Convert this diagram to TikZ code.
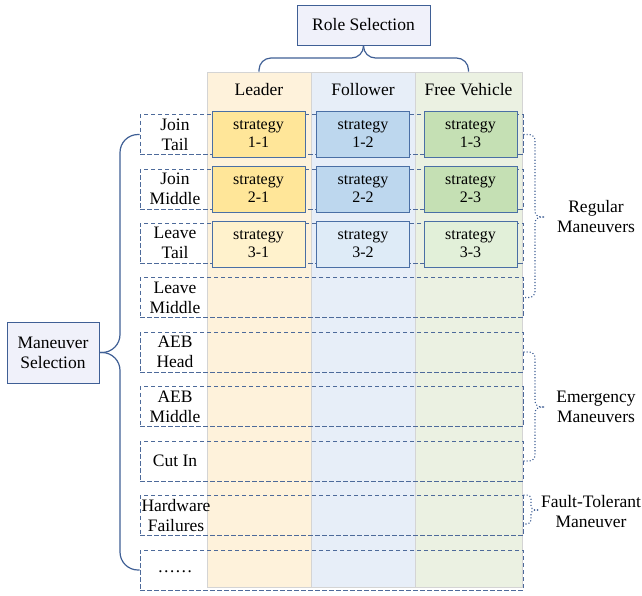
\documentclass[tikz,border=0pt]{standalone}
\usepackage{fontspec}
\setmainfont{Liberation Serif}
\usetikzlibrary{calc}
\definecolor{leaderbg}{HTML}{FEF2DB}
\definecolor{followerbg}{HTML}{E7EEF8}
\definecolor{freebg}{HTML}{EBF1E2}
\definecolor{yA}{HTML}{FFE699}
\definecolor{yB}{HTML}{FFF2CC}
\definecolor{bA}{HTML}{BDD7EE}
\definecolor{bB}{HTML}{DEEBF7}
\definecolor{gA}{HTML}{C5E0B4}
\definecolor{gB}{HTML}{E2F0D9}
\definecolor{sborder}{HTML}{4A6FA5}
\definecolor{dashc}{HTML}{4D6A9A}
\definecolor{bracec}{HTML}{3F5F95}
\definecolor{selfill}{HTML}{F0F1FA}
\definecolor{colline}{HTML}{D4D4D4}
\begin{document}
\begin{tikzpicture}[x=1pt,y=-1pt,
  txt/.style={font=\fontsize{17.5}{20}\selectfont, align=center, inner sep=0pt},
  selbox/.style={draw=bracec, fill=selfill, line width=1pt, font=\fontsize{17.5}{20}\selectfont, align=center, inner sep=0pt},
  colbox/.style={draw=colline, line width=0.8pt, minimum height=515pt, inner sep=0pt},
  rowbox/.style={draw=dashc, line width=0.9pt, dash pattern=on 4.5pt off 2.5pt, minimum width=383pt, minimum height=40pt, inner sep=0pt},
  stratbox/.style={draw=sborder, line width=1pt, minimum width=93pt, minimum height=46pt, inner sep=0pt, font=\fontsize{16}{18}\selectfont, align=center},
  brace/.style={draw=bracec, line width=1.2pt},
  dbrace/.style={draw=bracec, line width=1.1pt, dotted, rounded corners=6pt}]
\useasboundingbox (0,0) rectangle (642,595);
% columns
\node[colbox, fill=leaderbg, minimum width=104pt] (col1) at (259,329.5) {};
\node[colbox, fill=followerbg, minimum width=104pt] (col2) at (363,329.5) {};
\node[colbox, fill=freebg, minimum width=107pt] (col3) at (468.5,329.5) {};
\node[txt] (h1) at (259,90) {Leader};
\node[txt] (h2) at (363,90) {Follower};
\node[txt] (h3) at (468.5,90) {Free Vehicle};
% rows
\foreach \i/\y in {1/134.5,2/189,3/243,4/297.5,5/352,6/406.5,7/461,8/515.5,9/570}{
  \node[rowbox] (r\i) at (331.5,\y) {};
}
\node[txt] (l1) at (175,134.5) {Join\\Tail};
\node[txt] (l2) at (175,189) {Join\\Middle};
\node[txt] (l3) at (175,243) {Leave\\Tail};
\node[txt] (l4) at (175,297.5) {Leave\\Middle};
\node[txt] (l5) at (175,352) {AEB\\Head};
\node[txt] (l6) at (175,406.5) {AEB\\Middle};
\node[txt] (l7) at (175,461) {Cut In};
\node[txt] (l8) at (176,515.5) {Hardware\\Failures};
\node[txt] (l9) at (175,572) {\ldots\ldots};
% strategies
\node[stratbox, fill=yA] (s11) at (258.5,134) {strategy\\1-1};
\node[stratbox, fill=bA] (s12) at (363,134) {strategy\\1-2};
\node[stratbox, fill=gA] (s13) at (470.5,134) {strategy\\1-3};
\node[stratbox, fill=yA] (s21) at (258.5,189) {strategy\\2-1};
\node[stratbox, fill=bA] (s22) at (363,189) {strategy\\2-2};
\node[stratbox, fill=gA] (s23) at (470.5,189) {strategy\\2-3};
\node[stratbox, fill=yB] (s31) at (258.5,244) {strategy\\3-1};
\node[stratbox, fill=bB] (s32) at (363,244) {strategy\\3-2};
\node[stratbox, fill=gB] (s33) at (470.5,244) {strategy\\3-3};
% selection boxes
\node[selbox, minimum width=133pt, minimum height=40pt] (rs) at (363.5,25) {Role Selection};
\node[selbox, minimum width=92pt, minimum height=61pt] (ms) at (53,352.5) {Maneuver\\Selection};
% top brace
\coordinate (tb) at (363.5,58);
\draw[brace, rounded corners=12pt] (col1.north) |- (tb) -- (rs.south);
\draw[brace, rounded corners=12pt] (col3.north) |- (tb) -- (rs.south);
% left brace
\coordinate (lb) at (120,352.5);
\draw[brace, rounded corners=18pt] (r1.west) -| (lb) -- (ms.east);
\draw[brace, rounded corners=18pt] (ms.east) -- (lb) |- (r9.west);
% right braces
\coordinate (rb1) at (535,217);
\coordinate (rt1) at (544,217);
\draw[dbrace] (r1.east) -| (rb1) -- (rt1);
\draw[dbrace] (rt1) -- (rb1) |- (r4.east);
\node[txt] (t1) at (596,217) {Regular\\Maneuvers};
\coordinate (rb2) at (535,407);
\coordinate (rt2) at (544,407);
\draw[dbrace] (r5.east) -| (rb2) -- (rt2);
\draw[dbrace] (rt2) -- (rb2) |- (r7.east);
\node[txt] (t2) at (596,407) {Emergency\\Maneuvers};
\coordinate (rb3) at (531,510);
\coordinate (rt3) at (538,510);
\coordinate (re3) at (523,524);
\draw[dbrace, rounded corners=4pt] (r8.north east) -| (rb3) -- (rt3);
\draw[dbrace, rounded corners=4pt] (rt3) -- (rb3) |- (re3);
\node[txt] (t3) at (591,512) {Fault-Tolerant\\Maneuver};
\end{tikzpicture}
\end{document}
